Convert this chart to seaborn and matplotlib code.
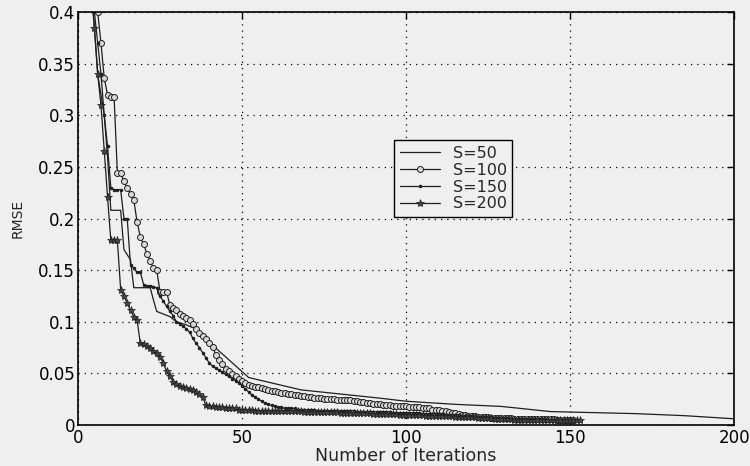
import numpy as np
import pandas as pd
import seaborn as sns
import matplotlib.pyplot as plt

# RMSE per iteration
s50_iter = [1, 4, 6, 8, 9, 10, 13, 14, 16, 17, 22, 23, 24, 28, 30, 33, 36, 40, 45, 52,
            60, 68, 80, 92, 100, 115, 129, 144, 170, 185, 200]
s50 = [0.62, 0.43, 0.34, 0.30, 0.26, 0.208, 0.208, 0.17, 0.16, 0.133,
       0.133, 0.121, 0.11, 0.105, 0.10, 0.097, 0.093, 0.08, 0.066, 0.046,
       0.04, 0.034, 0.03, 0.026, 0.023, 0.02, 0.018, 0.013, 0.011, 0.009, 0.006]

s100 = [0.62, 0.55, 0.49, 0.45, 0.42, 0.40, 0.37, 0.336, 0.320, 0.318,
        0.318, 0.244, 0.244, 0.236, 0.230, 0.224, 0.218, 0.197, 0.182, 0.175,
        0.166, 0.159, 0.152, 0.150, 0.129, 0.129, 0.129, 0.116, 0.113, 0.111,
        0.108, 0.106, 0.104, 0.102, 0.098, 0.093, 0.089, 0.086, 0.083, 0.079,
        0.076, 0.068, 0.063, 0.059, 0.054, 0.052, 0.049, 0.047, 0.045, 0.043,
        0.041, 0.039, 0.038, 0.037, 0.037, 0.036, 0.035, 0.034, 0.033, 0.033,
        0.032, 0.031, 0.031, 0.030, 0.030, 0.029, 0.029, 0.028, 0.028, 0.027,
        0.027, 0.026, 0.026, 0.026, 0.025, 0.025, 0.025, 0.025, 0.024, 0.024,
        0.024, 0.024, 0.024, 0.023, 0.023, 0.022, 0.022, 0.021, 0.021, 0.020,
        0.020, 0.020, 0.019, 0.019, 0.019, 0.018, 0.018, 0.018, 0.018, 0.018,
        0.017, 0.017, 0.017, 0.017, 0.016, 0.016, 0.016, 0.015, 0.015, 0.015,
        0.014, 0.014, 0.013, 0.012, 0.012, 0.011, 0.010, 0.010, 0.009, 0.009,
        0.009, 0.008, 0.008, 0.008, 0.008, 0.007, 0.007, 0.007, 0.007, 0.007,
        0.007, 0.007, 0.006, 0.006, 0.006, 0.006, 0.006, 0.006, 0.006, 0.006,
        0.006, 0.006, 0.006, 0.006, 0.006, 0.005, 0.005, 0.005, 0.005, 0.005,
        0.005]

s150 = [0.60, 0.52, 0.47, 0.43, 0.40, 0.37, 0.34, 0.30, 0.27, 0.23,
        0.228, 0.228, 0.228, 0.200, 0.200, 0.155, 0.152, 0.148, 0.148, 0.136,
        0.135, 0.135, 0.134, 0.133, 0.125, 0.120, 0.115, 0.110, 0.106, 0.100,
        0.098, 0.096, 0.093, 0.090, 0.084, 0.079, 0.075, 0.070, 0.065, 0.060,
        0.057, 0.055, 0.053, 0.051, 0.049, 0.047, 0.045, 0.043, 0.041, 0.038,
        0.035, 0.032, 0.029, 0.027, 0.025, 0.023, 0.021, 0.020, 0.019, 0.018,
        0.017, 0.017, 0.016, 0.016, 0.016, 0.016, 0.015, 0.015, 0.015, 0.015,
        0.015, 0.015, 0.014, 0.014, 0.014, 0.014, 0.014, 0.014, 0.014, 0.014,
        0.014, 0.014, 0.014, 0.014, 0.013, 0.013, 0.013, 0.013, 0.013, 0.013,
        0.013, 0.013, 0.013, 0.013, 0.013, 0.012, 0.012, 0.012, 0.012, 0.012,
        0.012, 0.012, 0.012, 0.012, 0.011, 0.011, 0.011, 0.011, 0.011, 0.011,
        0.011, 0.010, 0.010, 0.010, 0.010, 0.010, 0.009, 0.009, 0.009, 0.009,
        0.009, 0.008, 0.008, 0.008, 0.008, 0.008, 0.007, 0.007, 0.007, 0.007,
        0.007, 0.006, 0.006, 0.006, 0.006, 0.006, 0.006, 0.006, 0.006, 0.006,
        0.006, 0.006, 0.006, 0.005, 0.005, 0.005, 0.005, 0.005, 0.005, 0.005,
        0.005, 0.005]

s200 = [0.60, 0.52, 0.46, 0.42, 0.385, 0.34, 0.31, 0.265, 0.221, 0.179,
        0.179, 0.179, 0.131, 0.125, 0.118, 0.111, 0.105, 0.102, 0.079, 0.078,
        0.077, 0.075, 0.072, 0.070, 0.066, 0.060, 0.052, 0.047, 0.042, 0.040,
        0.038, 0.037, 0.036, 0.035, 0.034, 0.032, 0.030, 0.027, 0.019, 0.018,
        0.018, 0.017, 0.017, 0.017, 0.016, 0.016, 0.016, 0.016, 0.015, 0.015,
        0.015, 0.015, 0.015, 0.014, 0.014, 0.014, 0.014, 0.014, 0.014, 0.014,
        0.014, 0.014, 0.014, 0.014, 0.014, 0.014, 0.014, 0.014, 0.013, 0.013,
        0.013, 0.013, 0.013, 0.013, 0.013, 0.013, 0.013, 0.013, 0.013, 0.012,
        0.012, 0.012, 0.012, 0.012, 0.012, 0.012, 0.012, 0.012, 0.012, 0.011,
        0.011, 0.011, 0.011, 0.011, 0.011, 0.011, 0.011, 0.010, 0.010, 0.010,
        0.010, 0.010, 0.010, 0.010, 0.010, 0.009, 0.009, 0.009, 0.009, 0.009,
        0.009, 0.009, 0.009, 0.009, 0.008, 0.008, 0.008, 0.008, 0.008, 0.008,
        0.008, 0.007, 0.007, 0.007, 0.007, 0.007, 0.006, 0.006, 0.006, 0.006,
        0.006, 0.006, 0.005, 0.005, 0.005, 0.005, 0.005, 0.005, 0.005, 0.005,
        0.005, 0.005, 0.005, 0.005, 0.005, 0.005, 0.005, 0.005, 0.005, 0.005,
        0.005, 0.005, 0.005]

x_ticks = [0, 50, 100, 150, 200]
y_ticks = [0, 0.05, 0.1, 0.15, 0.2, 0.25, 0.3, 0.35, 0.4]
y_labels = ["0", "0.05", "0.1", "0.15", "0.2", "0.25", "0.3", "0.35", "0.4"]

sns.set_style("white")
plt.rcParams['font.family'] = ['DejaVu Sans']
paper = '#efefef'
ink = '#1e1e1e'

fig = plt.figure(figsize=(7.5, 4.66), dpi=100, facecolor=paper)
ax = fig.add_axes([0.104, 0.088, 0.875, 0.886], facecolor=paper)

sns.lineplot(x=s50_iter, y=s50, ax=ax, color=ink, lw=0.9, label="S=50")
sns.lineplot(x=np.arange(1, len(s100) + 1), y=s100, ax=ax, color=ink, lw=0.9,
             marker='o', ms=4.3, mfc='#d8d8d8', mec=ink, mew=0.7, label="S=100")
sns.lineplot(x=np.arange(1, len(s150) + 1), y=s150, ax=ax, color=ink, lw=0.9,
             marker='.', ms=3.5, mfc=ink, mec=ink, label="S=150")
sns.lineplot(x=np.arange(1, len(s200) + 1), y=s200, ax=ax, color=ink, lw=0.9,
             marker='*', ms=6, mfc='#444444', mec=ink, mew=0.5, label="S=200")

ax.set_xlim(0, 200)
ax.set_ylim(0, 0.4)
ax.set_xticks(x_ticks)
ax.set_yticks(y_ticks)
ax.set_yticklabels(y_labels)
ax.grid(True, color='black', linestyle=(0, (1, 4)), lw=0.9)
ax.tick_params(direction='in', length=5, width=1, top=True, right=True,
               labelsize=12, colors='black', pad=2)
ax.tick_params(axis='x', pad=3)
for sp in ax.spines.values():
    sp.set_color('black')
    sp.set_linewidth(1.2)

ax.set_xlabel("Number of Iterations", fontsize=12.5, labelpad=0)
ax.set_ylabel("RMSE", fontsize=10, labelpad=10)

leg = ax.legend(loc='upper left', bbox_to_anchor=(0.482, 0.69), fontsize=11.5,
                frameon=True, fancybox=False, edgecolor='black', framealpha=1,
                facecolor=paper, borderpad=0.35, labelspacing=0.12,
                handlelength=2.5, handletextpad=0.8, borderaxespad=0)
leg.get_frame().set_linewidth(1.0)

plt.savefig("out.png", dpi=100, facecolor=paper)
